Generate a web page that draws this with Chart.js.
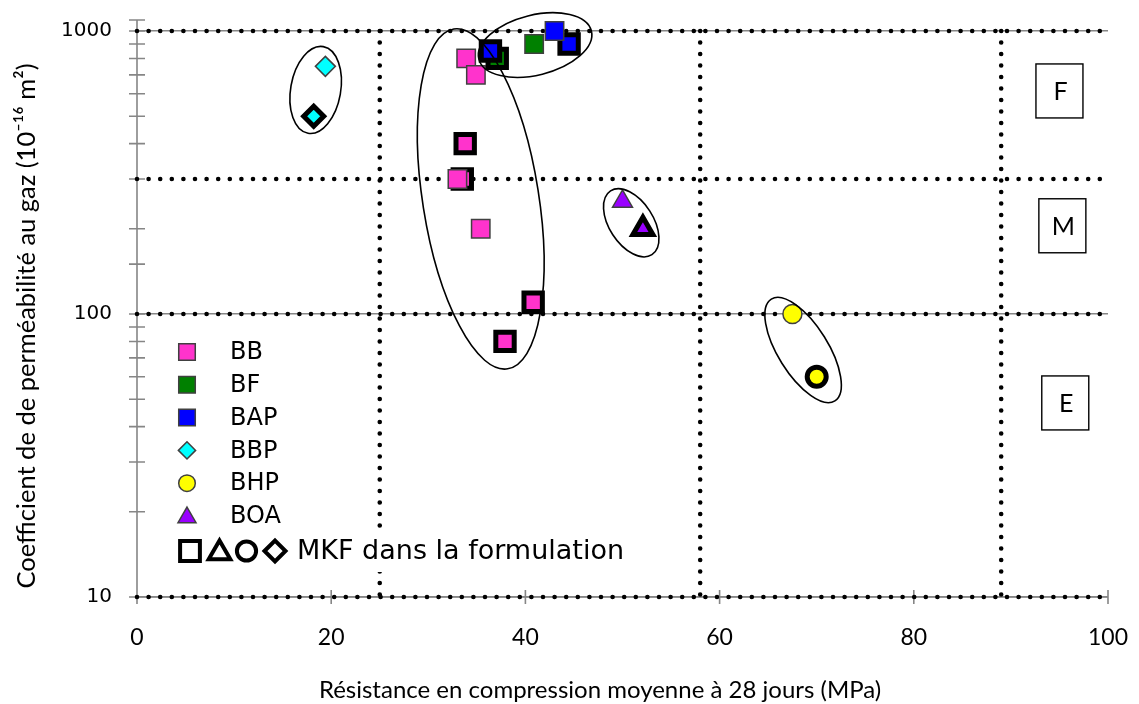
<!DOCTYPE html>
<html>
<head>
<meta charset="utf-8">
<script src="https://cdn.jsdelivr.net/npm/chart.js@4.4.1/dist/chart.umd.min.js"></script>
<style>
  html, body { margin: 0; padding: 0; background: #ffffff; }
  #wrap { width: 1139px; height: 704px; }
</style>
</head>
<body>
<div id="wrap"><canvas id="c" width="1139" height="704"></canvas></div>
<script>
// ---------- DATA ----------
const seriesNames = ['BB', 'BF', 'BAP', 'BBP', 'BHP', 'BOA'];
// Résistance (MPa) / perméabilité (1e-16 m²) — formulations sans MKF
const BB_res  = [33.9, 34.9, 35.4, 33.0];
const BB_perm = [800, 700, 200, 300];
const BF_res  = [40.9];
const BF_perm = [900];
const BAP_res  = [43.0];
const BAP_perm = [1000];
const BBP_res  = [19.4];
const BBP_perm = [750];
const BHP_res  = [67.5];
const BHP_perm = [100];
const BOA_res  = [50.0];
const BOA_perm = [250];
// formulations avec MKF
const BB_mkf_res  = [33.8, 33.5, 40.8, 37.9];
const BB_mkf_perm = [400, 300, 110, 80];
const BF_mkf_res  = [37.1];
const BF_mkf_perm = [800];
const BAP_mkf_res  = [36.4, 44.5];
const BAP_mkf_perm = [850, 900];
const BBP_mkf_res  = [18.2];
const BBP_mkf_perm = [500];
const BHP_mkf_res  = [70.0];
const BHP_mkf_perm = [60];
const BOA_mkf_res  = [52.1];
const BOA_mkf_perm = [200];
// limites de classes
const limitPerm = [1000, 300, 100, 10];
const limitRes  = [25, 58, 89];
const classLabels = ['F', 'M', 'E'];
// tick labels
const yTickLabels = [10, 100, 1000];
const xTickLabels = [0, 20, 40, 60, 80, 100];
const xTitle = 'Résistance en compression moyenne à 28 jours (MPa)';
const yTitle = 'Coefficient de de perméabilité au gaz (10⁻¹⁶ m²)';
const legendMkfText = 'MKF dans la formulation';

// ---------- STYLES / LAYOUT ----------
const seriesColors = ['#FF33CC', '#008000', '#0000FF', '#00FFFF', '#FFFF00', '#9900FF'];
const seriesShapes = ['rect', 'rect', 'rect', 'rectRot', 'circle', 'triangle'];
const seriesRadius = [13, 13, 13, 10, 9.5, 11.5];
const legendRadius = [11.7, 11.7, 11.7, 8.6, 8.3, 10.4];
const TARGET = { left: 137, top: 31, right: 1108, bottom: 597 };

const normalData = [[BB_res, BB_perm], [BF_res, BF_perm], [BAP_res, BAP_perm], [BBP_res, BBP_perm], [BHP_res, BHP_perm], [BOA_res, BOA_perm]];
const mkfData = [[BB_mkf_res, BB_mkf_perm], [BF_mkf_res, BF_mkf_perm], [BAP_mkf_res, BAP_mkf_perm], [BBP_mkf_res, BBP_mkf_perm], [BHP_mkf_res, BHP_mkf_perm], [BOA_mkf_res, BOA_mkf_perm]];

// annotation shapes (centres in data units, radii in px)
const ellipses = [
  { x: 18.4, y: 619, rx: 25, ry: 44, rot: 10 },
  { x: 35.4, y: 255, rx: 58, ry: 172, rot: -9 },
  { x: 41.0, y: 892, rx: 58, ry: 30, rot: -14 },
  { x: 50.9, y: 210, rx: 38, ry: 22, rot: 57 },
  { x: 68.6, y: 74.6, rx: 60, ry: 25, rot: 58 }
];
const classBoxes = [
  { x: 95.0, y: 614 },
  { x: 95.3, y: 205 },
  { x: 95.6, y: 48.5 }
];

function pts(xs, ys) { return xs.map((v, i) => ({ x: v, y: ys[i] })); }

const datasets = [];
let ord = 1000;
limitPerm.forEach(p => {
  datasets.push({ label: 'lim' + p, data: [{ x: 0, y: p }, { x: 100, y: p }], showLine: true, pointRadius: 0,
    borderColor: '#000', borderWidth: 4.6, borderDash: [0, 11.6], borderCapStyle: 'round', clip: false, order: ord-- });
});
limitRes.forEach(r => {
  datasets.push({ label: 'limR' + r, data: [{ x: r, y: 1000 }, { x: r, y: 10 }], showLine: true, pointRadius: 0,
    borderColor: '#000', borderWidth: 4.6, borderDash: [0, 11.5], borderCapStyle: 'round', clip: false, order: ord-- });
});
seriesNames.forEach((name, i) => {
  datasets.push({ label: name + ' MKF', data: pts(mkfData[i][0], mkfData[i][1]), pointStyle: seriesShapes[i],
    pointRadius: seriesRadius[i], pointBackgroundColor: seriesColors[i], pointBorderColor: '#000', pointBorderWidth: 5,
    showLine: false, clip: false, order: ord-- });
  datasets.push({ label: name, data: pts(normalData[i][0], normalData[i][1]), pointStyle: seriesShapes[i],
    pointRadius: seriesRadius[i], pointBackgroundColor: seriesColors[i], pointBorderColor: '#404040', pointBorderWidth: 1.5,
    showLine: false, clip: false, order: ord-- });
});

const AXIS_COLOR = '#868686';
const isMajor = v => Math.abs(Math.log10(v) - Math.round(Math.log10(v))) < 1e-9;

function drawShape(ctx, style, r, x, y) {
  const H = Chart.helpers;
  if (H && H.drawPoint) {
    H.drawPoint(ctx, { pointStyle: style, radius: r, rotation: 0, borderWidth: ctx.lineWidth }, x, y);
    return;
  }
  ctx.beginPath();
  if (style === 'circle') ctx.arc(x, y, r, 0, Math.PI * 2);
  else if (style === 'rect') { const s = r * Math.SQRT1_2; ctx.rect(x - s, y - s, 2 * s, 2 * s); }
  else if (style === 'rectRot') { ctx.moveTo(x, y - r); ctx.lineTo(x + r, y); ctx.lineTo(x, y + r); ctx.lineTo(x - r, y); ctx.closePath(); }
  else if (style === 'triangle') { for (let k = 0; k < 3; k++) { const a = -Math.PI / 2 + k * 2 * Math.PI / 3; const px = x + r * Math.cos(a), py = y + r * Math.sin(a); k ? ctx.lineTo(px, py) : ctx.moveTo(px, py); } ctx.closePath(); }
  ctx.fill(); ctx.stroke();
}

const zeroPad = s => { s.paddingTop = 0; s.paddingBottom = 0; s.paddingLeft = 0; s.paddingRight = 0; };

const axesPlugin = {
  id: 'axesPlugin',
  beforeDatasetsDraw(chart) {
    const { ctx, chartArea: a, scales: { x, y } } = chart;
    ctx.save();
    ctx.strokeStyle = AXIS_COLOR;
    ctx.lineWidth = 1.6;
    ctx.beginPath();
    ctx.moveTo(a.left, a.top - 11); ctx.lineTo(a.left, a.bottom + 7);
    ctx.moveTo(a.left - 8, a.top - 11); ctx.lineTo(a.left + 8, a.top - 11);
    y.ticks.forEach(t => {
      const py = y.getPixelForValue(t.value);
      ctx.moveTo(a.left - 8, py); ctx.lineTo(a.left + 8, py);
    });
    ctx.moveTo(a.left, a.bottom); ctx.lineTo(a.right, a.bottom);
    x.ticks.forEach(t => {
      const px = x.getPixelForValue(t.value);
      ctx.moveTo(px, a.bottom - 7); ctx.lineTo(px, a.bottom + 7);
    });
    ctx.stroke();
    // axis titles
    ctx.fillStyle = '#000';
    ctx.textAlign = 'center';
    ctx.textBaseline = 'middle';
    ctx.font = '24px Lato';
    ctx.fillText(xTitle, 600, 690);
    ctx.font = '25.5px Lato';
    ctx.translate(27, 326);
    ctx.rotate(-Math.PI / 2);
    ctx.fillText(yTitle, 0, 0);
    ctx.restore();
  }
};

const annotPlugin = {
  id: 'annotPlugin',
  afterDatasetsDraw(chart) {
    const { ctx, scales: { x, y } } = chart;
    ctx.save();
    ctx.strokeStyle = '#000';
    ctx.lineWidth = 1.6;
    ellipses.forEach(e => {
      ctx.beginPath();
      ctx.ellipse(x.getPixelForValue(e.x), y.getPixelForValue(e.y), e.rx, e.ry, e.rot * Math.PI / 180, 0, Math.PI * 2);
      ctx.stroke();
    });
    ctx.font = '25px Lato';
    ctx.textAlign = 'center';
    ctx.textBaseline = 'middle';
    classBoxes.forEach((b, i) => {
      const cx = x.getPixelForValue(b.x), cy = y.getPixelForValue(b.y);
      ctx.fillStyle = '#fff';
      ctx.fillRect(cx - 23.5, cy - 27, 47, 54);
      ctx.lineWidth = 1.4;
      ctx.strokeStyle = '#000';
      ctx.strokeRect(cx - 23.5, cy - 27, 47, 54);
      ctx.fillStyle = '#000';
      ctx.fillText(classLabels[i], cx + 1, cy + 1);
    });
    // legend
    const lx = 187, ly0 = 352, step = 32.8;
    ctx.textAlign = 'left';
    ctx.font = '24px "DejaVu Sans"';
    seriesNames.forEach((name, i) => {
      const yy = ly0 + i * step;
      ctx.fillStyle = seriesColors[i];
      ctx.strokeStyle = '#404040';
      ctx.lineWidth = 1.5;
      drawShape(ctx, seriesShapes[i], legendRadius[i], lx, yy + (seriesShapes[i] === 'triangle' ? 1.5 : 0));
      ctx.fillStyle = '#000';
      ctx.fillText(name, 230, yy + 1);
    });
    // MKF entry (white box)
    ctx.fillStyle = '#fff';
    ctx.fillRect(172, 531, 458, 41);
    ctx.strokeStyle = '#000';
    ctx.lineWidth = 4;
    ctx.fillStyle = '#fff';
    const my = 551;
    drawShape(ctx, 'rect', 14, 190, my);
    drawShape(ctx, 'triangle', 12.5, 219.5, my + 2);
    drawShape(ctx, 'circle', 9.6, 246.5, my);
    drawShape(ctx, 'rectRot', 10.5, 275, my);
    ctx.fillStyle = '#000';
    ctx.font = '27px "DejaVu Sans"';
    ctx.fillText(legendMkfText, 297, my + 1);
    ctx.restore();
  }
};

function build() {
  const chart = new Chart(document.getElementById('c'), {
    type: 'scatter',
    data: { datasets },
    options: {
      responsive: false,
      animation: false,
      events: [],
      layout: { padding: { left: 0, right: 31, top: 31, bottom: 0 } },
      plugins: { legend: { display: false }, tooltip: { enabled: false } },
      scales: {
        x: {
          type: 'linear', min: 0, max: 100,
          afterBuildTicks: s => { s.ticks = xTickLabels.map(v => ({ value: v })); },
          ticks: { font: { family: 'Lato', size: 23 }, color: '#000', padding: 27, maxRotation: 0, autoSkip: false },
          grid: { display: false, drawTicks: false },
          border: { display: false },
          title: { display: false },
          afterFit: s => { s.height = 107; zeroPad(s); }
        },
        y: {
          type: 'logarithmic', min: 10, max: 1000,
          ticks: { autoSkip: false, font: { family: 'DejaVu Sans', size: 20 }, color: '#000', padding: 25,
                   callback: v => (isMajor(v) && yTickLabels.includes(Math.round(v))) ? String(Math.round(v)) : '' },
          grid: { drawTicks: false, lineWidth: 1.6,
                  color: c => (c.tick && isMajor(c.tick.value)) ? AXIS_COLOR : 'rgba(0,0,0,0)' },
          border: { display: false },
          title: { display: false },
          afterFit: s => { s.width = 137; zeroPad(s); }
        }
      }
    },
    plugins: [axesPlugin, annotPlugin]
  });
  for (let k = 0; k < 3; k++) {
    const a = chart.chartArea, p = chart.options.layout.padding;
    const dT = a.top - TARGET.top, dR = a.right - TARGET.right, dB = a.bottom - TARGET.bottom, dL = a.left - TARGET.left;
    if (Math.abs(dT) < 0.5 && Math.abs(dR) < 0.5 && Math.abs(dB) < 0.5 && Math.abs(dL) < 0.5) break;
    p.top -= dT; p.right += dR; p.bottom += dB; p.left -= dL;
    chart.update();
  }
}

const fontLoads = ['24px Lato', '23px Lato', '20px "DejaVu Sans"', '27px "DejaVu Sans"'].map(f => document.fonts.load(f).catch(() => null));
Promise.all(fontLoads).then(build, build);
</script>
</body>
</html>
